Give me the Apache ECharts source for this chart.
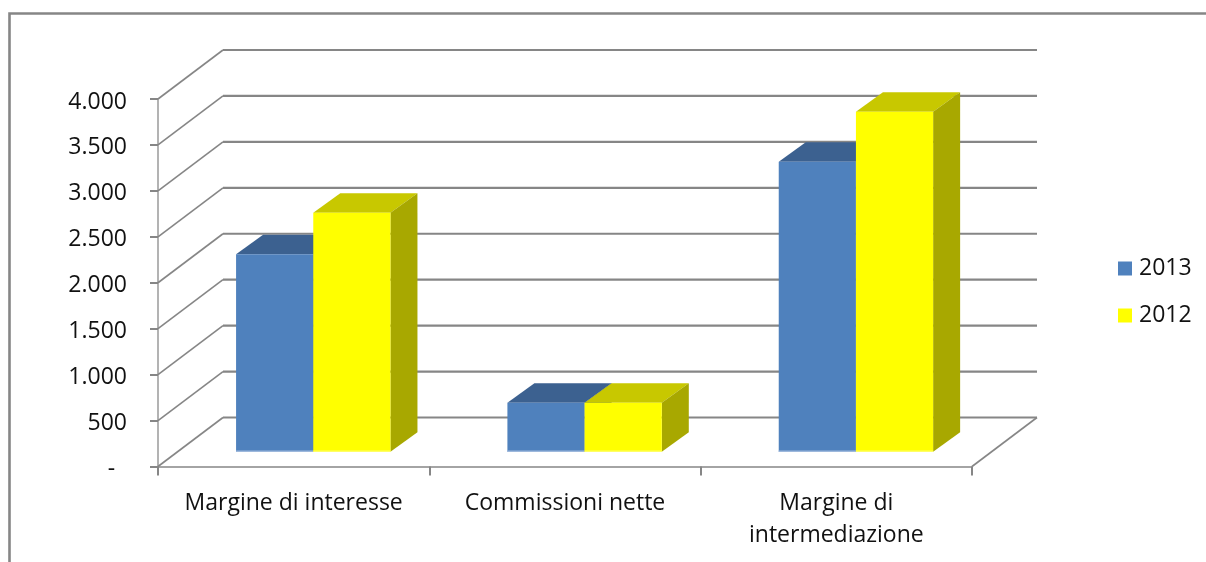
<!DOCTYPE html>
<html>
<head>
<meta charset="utf-8">
<style>html,body{margin:0;padding:0;background:#fff}#c{width:1206px;height:562px}</style>
<script src="https://cdn.jsdelivr.net/npm/echarts@6/dist/echarts.min.js"></script>
</head>
<body>
<div id="c"></div>
<script>
const categories = ['Margine di interesse', 'Commissioni nette', 'Margine di\nintermediazione'];
const values2013 = [2150, 533, 3156];
const values2012 = [2600, 533, 3700];
const yTicks = [0, 500, 1000, 1500, 2000, 2500, 3000, 3500, 4000];

const WALL_DX = 65, WALL_DY = 49;      // depth of the 3D box
const BAR_DX = 19.6, BAR_DY = 14.8;    // front of bars inside the box
const DEPTH_DX = 27, DEPTH_DY = 19.5;  // depth of each bar
const BAR_W = 0.2845;                  // bar width / category band
const GREY = '#868686';
const FONT = 'Open Sans';

function fmt(v) {
  if (v === 0) return '-  ';
  return String(v).replace(/\B(?=(\d{3})+$)/g, '.');
}
function wallItem(params, api) {
  const cs = params.coordSys;
  const y = api.coord([0, api.value(0)])[1];
  const x0 = cs.x, x1 = cs.x + cs.width;
  const children = [
    { type: 'line', shape: { x1: x0, y1: y, x2: x0 + WALL_DX, y2: y - WALL_DY }, style: { stroke: GREY, lineWidth: 1.6 } },
    { type: 'line', shape: { x1: x0 + WALL_DX, y1: y - WALL_DY, x2: x1 + WALL_DX, y2: y - WALL_DY }, style: { stroke: GREY, lineWidth: 2.2 } }
  ];
  if (api.value(0) === 0) {
    children.push({ type: 'line', shape: { x1: x1, y1: y, x2: x1 + WALL_DX, y2: y - WALL_DY }, style: { stroke: GREY, lineWidth: 1.6 } });
  }
  return { type: 'group', children };
}
function barItem(slot, front, top, side, edge) {
  return function (params, api) {
    const p = api.coord([api.value(0), api.value(1)]);
    const base = api.coord([api.value(0), 0]);
    const w = api.size([1, 0])[0] * BAR_W;
    const l = p[0] + BAR_DX + (slot === 0 ? -w : 0);
    const r = l + w;
    const t = p[1] - BAR_DY;
    const b = base[1] - BAR_DY;
    const ns = { stroke: null };
    return {
      type: 'group',
      children: [
        { type: 'polygon', shape: { points: [[l, t], [r, t], [r + DEPTH_DX, t - DEPTH_DY], [l + DEPTH_DX, t - DEPTH_DY]] }, style: { fill: top, ...ns } },
        { type: 'polygon', shape: { points: [[r, t], [r + DEPTH_DX, t - DEPTH_DY], [r + DEPTH_DX, b - DEPTH_DY], [r, b]] }, style: { fill: side, ...ns } },
        { type: 'rect', shape: { x: l, y: t, width: w, height: b - t }, style: { fill: front, ...ns } },
        { type: 'line', shape: { x1: l, y1: b - 0.5, x2: r, y2: b - 0.5 }, style: { stroke: edge, lineWidth: 1.5 } }
      ]
    };
  };
}
const chart = echarts.init(document.getElementById('c'), null, { renderer: 'canvas' });
chart.setOption({
  animation: false,
  backgroundColor: '#fff',
  textStyle: { fontFamily: FONT },
  graphic: [{
    type: 'polyline', silent: true, z: 0,
    shape: { points: [[9.5, 562], [9.5, 13.5], [1206, 13.5]] },
    style: { stroke: GREY, lineWidth: 2.6, fill: null }
  }],
  grid: { left: 158, top: 99, width: 814, height: 367.5 },
  legend: {
    data: ['2013', '2012'],
    orient: 'vertical', left: 1118, top: 257, padding: 0,
    icon: 'rect', itemWidth: 14, itemHeight: 14, itemGap: 24, selectedMode: false,
    textStyle: { fontFamily: FONT, fontSize: 23, color: '#111', padding: [0, 0, 0, 2] }
  },
  xAxis: {
    type: 'category', data: categories,
    axisLine: { lineStyle: { color: GREY, width: 1.6 } },
    axisTick: { show: true, length: 9, lineStyle: { color: GREY, width: 2 } },
    axisLabel: { color: '#111', fontFamily: FONT, fontSize: 23, margin: 21, lineHeight: 32, interval: 0 },
    splitLine: { show: false }
  },
  yAxis: {
    type: 'value', min: 0, max: 4000, interval: 500,
    axisLine: { show: true, lineStyle: { color: '#a0a0a0', width: 1.6 } },
    axisTick: { show: true, length: 8, lineStyle: { color: GREY, width: 2 } },
    axisLabel: { color: '#111', fontFamily: FONT, fontSize: 23, margin: 31, verticalAlign: 'top', lineHeight: 6, formatter: fmt },
    splitLine: { show: false }
  },
  series: [
    {
      type: 'custom', silent: true, z: 1, clip: false,
      data: yTicks.map(v => [v]), encode: { y: 0 },
      renderItem: wallItem
    },
    {
      name: '2013', type: 'custom', z: 2, silent: true, clip: false,
      itemStyle: { color: '#4f81bd' },
      data: values2013.map((v, i) => [i, v]), encode: { x: 0, y: 1 },
      renderItem: barItem(0, '#4f81bd', '#3c6190', '#33557f', '#9db8dc')
    },
    {
      name: '2012', type: 'custom', z: 3, silent: true, clip: false,
      itemStyle: { color: '#ffff00' },
      data: values2012.map((v, i) => [i, v]), encode: { x: 0, y: 1 },
      renderItem: barItem(1, '#ffff00', '#c8c800', '#a8a800', '#ffff66')
    }
  ]
});
</script>
</body>
</html>
